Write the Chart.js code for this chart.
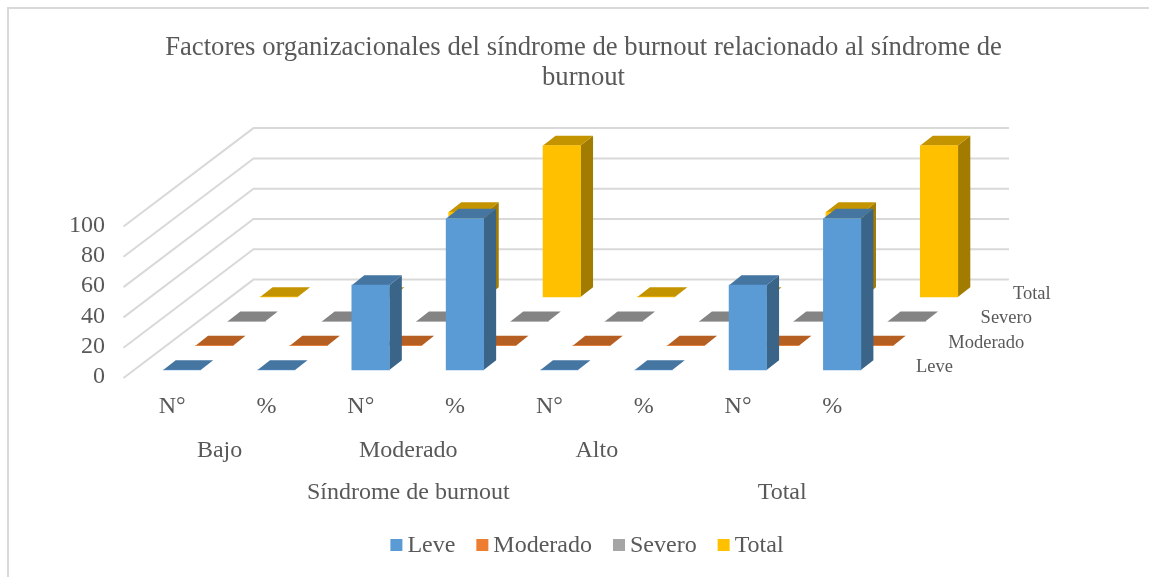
<!DOCTYPE html>
<html lang="es">
<head>
<meta charset="utf-8">
<title>Factores organizacionales</title>
<script src="https://cdn.jsdelivr.net/npm/chart.js@4"></script>
<style>
html,body{margin:0;padding:0;background:#fff;overflow:hidden;width:1149px;height:577px}
#frame{position:absolute;left:7px;top:7px;border-left:2px solid #d9d9d9;border-top:2px solid #d9d9d9;width:1149px;height:568px}
canvas{display:block}
</style>
</head>
<body>
<div id="frame"><canvas id="c" width="1149" height="568"></canvas></div>
<script>
const categories = ['N°','%','N°','%','N°','%','N°','%'];
const groupLabels = [['Bajo',0,1],['Moderado',2,3],['Alto',4,5]];
const topLabels = [['Síndrome de burnout',0,5],['Total',6,7]];
const seriesNames = ['Leve','Moderado','Severo','Total'];
const leve = [0,0,56,100,0,0,56,100];
const moderado = [0,0,0,0,0,0,0,0];
const severo = [0,0,0,0,0,0,0,0];
const total = [0,0,56,100,0,0,56,100];
const yTicks = [0,20,40,60,80,100];
const titleLines = ['Factores organizacionales del síndrome de burnout relacionado al síndrome de','burnout'];

const frontColors = ['#5B9BD5','#ED7D31','#A5A5A5','#FFC000'];
const topColors = ['#4575A1','#B55F23','#848484','#C49400'];
const sideColors = ['#3A6589','#9A5120','#6E6E6E','#A27C00'];

const FONT = '"Liberation Serif","Times New Roman",serif';
const TEXT = '#595959';
const GRID = '#d9d9d9';
const row = {dx0:11.3, dy0:7, px:32.3, py:24.35};
const depth = {x:12.5, y:9.8};
const wall = {x:130, y:98.4, lift:1, right:131};
const topNudge = [1.8,-1.5];

const plugin3d = {
  id:'plugin3d',
  beforeDatasetsDraw(chart){
    const {ctx, scales:{x,y}} = chart;
    ctx.save();
    ctx.strokeStyle = GRID; ctx.lineWidth = 2; ctx.lineJoin='miter';
    const x0 = x.left;
    yTicks.forEach(v=>{
      const py = y.getPixelForValue(v) + wall.lift;
      ctx.beginPath();
      ctx.moveTo(x0, py);
      ctx.lineTo(x0 + wall.x, py - wall.y);
      ctx.lineTo(x.right + wall.right, py - wall.y);
      ctx.stroke();
    });
    ctx.restore();
  },
  beforeDatasetDraw(chart,{index,meta}){
    const ctx = chart.ctx;
    ctx.save();
    ctx.translate(row.dx0 + index*row.px, -(row.dy0 + index*row.py));
    meta.data.forEach(el=>{
      const l = el.x - el.width/2, r = el.x + el.width/2, t = el.y, b = el.base;
      ctx.fillStyle = sideColors[index];
      ctx.beginPath();
      ctx.moveTo(r,t); ctx.lineTo(r+depth.x,t-depth.y); ctx.lineTo(r+depth.x,b-depth.y); ctx.lineTo(r,b);
      ctx.closePath(); ctx.fill();
      ctx.fillStyle = topColors[index];
      ctx.beginPath();
      ctx.moveTo(l,t); ctx.lineTo(l+depth.x,t-depth.y); ctx.lineTo(r+depth.x,t-depth.y); ctx.lineTo(r,t);
      ctx.closePath(); ctx.fill();
    });
  },
  afterDatasetDraw(chart){ chart.ctx.restore(); },
  afterDraw(chart){
    const {ctx, scales:{x,y}} = chart;
    ctx.save();
    ctx.fillStyle = TEXT;
    ctx.textBaseline = 'middle';
    ctx.textAlign = 'center';
    ctx.font = '24px '+FONT;
    const mid = (a,b)=>(x.getPixelForValue(a)+x.getPixelForValue(b))/2;
    groupLabels.forEach(([t,a,b])=>ctx.fillText(t, mid(a,b)+1.8, y.bottom + 74));
    topLabels.forEach(([t,a,b],i)=>ctx.fillText(t, mid(a,b)+topNudge[i], y.bottom + 116));
    // depth-axis labels
    ctx.textAlign = 'left';
    ctx.font = '18.5px '+FONT;
    seriesNames.forEach((t,k)=>ctx.fillText(t, x.right + 38 + k*row.px, y.bottom - 10 - k*row.py));
    // legend
    ctx.font = '24px '+FONT;
    const box=12, gap=5, sep=21;
    const widths = seriesNames.map(t=>ctx.measureText(t).width);
    const totalW = widths.reduce((a,w)=>a+box+gap+w,0)+sep*(seriesNames.length-1);
    let lx = chart.width/2 + 3.5 - totalW/2;
    const ly = 537;
    seriesNames.forEach((t,k)=>{
      ctx.fillStyle = frontColors[k];
      ctx.fillRect(lx, ly-7, box, box);
      ctx.fillStyle = TEXT;
      ctx.fillText(t, lx+box+gap, ly);
      lx += box+gap+widths[k]+sep;
    });
    ctx.restore();
  }
};

const series = [leve,moderado,severo,total];
new Chart(document.getElementById('c'),{
  type:'bar',
  data:{
    labels:categories,
    datasets:seriesNames.map((n,i)=>({
      label:n, data:series[i], backgroundColor:frontColors[i],
      borderWidth:0, barThickness:37.5, grouped:false, clip:false
    }))
  },
  options:{
    responsive:false, animation:false,
    layout:{padding:0},
    plugins:{
      legend:{display:false},
      tooltip:{enabled:false},
      title:{display:true,text:titleLines,color:TEXT,
        font:{family:FONT,size:26.67,weight:'normal',lineHeight:1.125},
        padding:{top:24,bottom:132.5}}
    },
    scales:{
      x:{
        grid:{display:false,drawTicks:false}, border:{display:false},
        ticks:{color:TEXT,font:{family:FONT,size:24},padding:15,maxRotation:0,autoSkip:false,labelOffset:1.5},
        afterFit(s){s.height=200;}
      },
      y:{
        min:0,max:100,
        grid:{display:false,drawTicks:false}, border:{display:false},
        ticks:{stepSize:20,autoSkip:false,color:TEXT,font:{family:FONT,size:24},padding:18.5},
        afterFit(s){s.width=114.5;}
      },
      depthSpace:{
        type:'linear',position:'right',display:true,
        grid:{display:false,drawTicks:false}, border:{display:false},
        ticks:{display:false},
        afterFit(s){s.width=280;}
      }
    }
  },
  plugins:[plugin3d]
});
</script>
</body>
</html>
